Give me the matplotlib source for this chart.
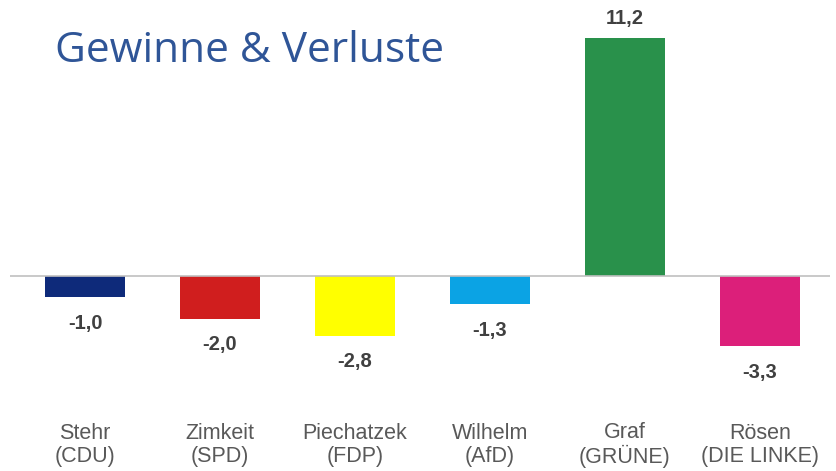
import matplotlib.pyplot as plt
from matplotlib.transforms import blended_transform_factory

# Daten
namen = ["Stehr", "Zimkeit", "Piechatzek", "Wilhelm", "Graf", "Rösen"]
parteien = ["CDU", "SPD", "FDP", "AfD", "GRÜNE", "DIE LINKE"]
werte = [-1.0, -2.0, -2.8, -1.3, 11.2, -3.3]
farben = ["#0E2A7A", "#D01E1E", "#FFFF00", "#0BA3E4", "#29914B", "#DC1F7A"]

plt.rcParams["font.family"] = ["Liberation Sans", "DejaVu Sans"]

fig = plt.figure(figsize=(8.36, 4.71), dpi=100)
ax = fig.add_axes([10 / 836, 0, 820 / 836, 1])
ax.set_axis_off()

x = list(range(len(werte)))
ax.bar(x, werte, width=0.59, color=farben, zorder=2)
ax.axhline(0, color="#c0c0c0", linewidth=1.2, zorder=3)

ax.set_xlim((10 - 85) / 135, (830 - 85) / 135)
ax.set_ylim(-(471 - 276) / 21.25, 276 / 21.25)

# Wertebeschriftungen
for xi, v in zip(x, werte):
    txt = f"{v:.1f}".replace(".", ",")
    off = 14 if v > 0 else -19
    ax.annotate(txt, (xi, v), xytext=(0, off), textcoords="offset points",
                ha="center", va="center", fontsize=14.5, fontweight="bold",
                color="#404040")

# Kategorien
trans = blended_transform_factory(ax.transData, ax.transAxes)
for xi, n, p in zip(x, namen, parteien):
    ax.text(xi, 1 - 445 / 471, f"{n}\n({p})", transform=trans, ha="center",
            va="center", fontsize=15.5, color="#595959", linespacing=1.1)

fig.text(55 / 836, 1 - 62 / 471, "Gewinne & Verluste", fontsize=30.5,
         color="#2F5597", family=["Open Sans", "DejaVu Sans"], va="baseline")

fig.savefig("out.png", dpi=100)
